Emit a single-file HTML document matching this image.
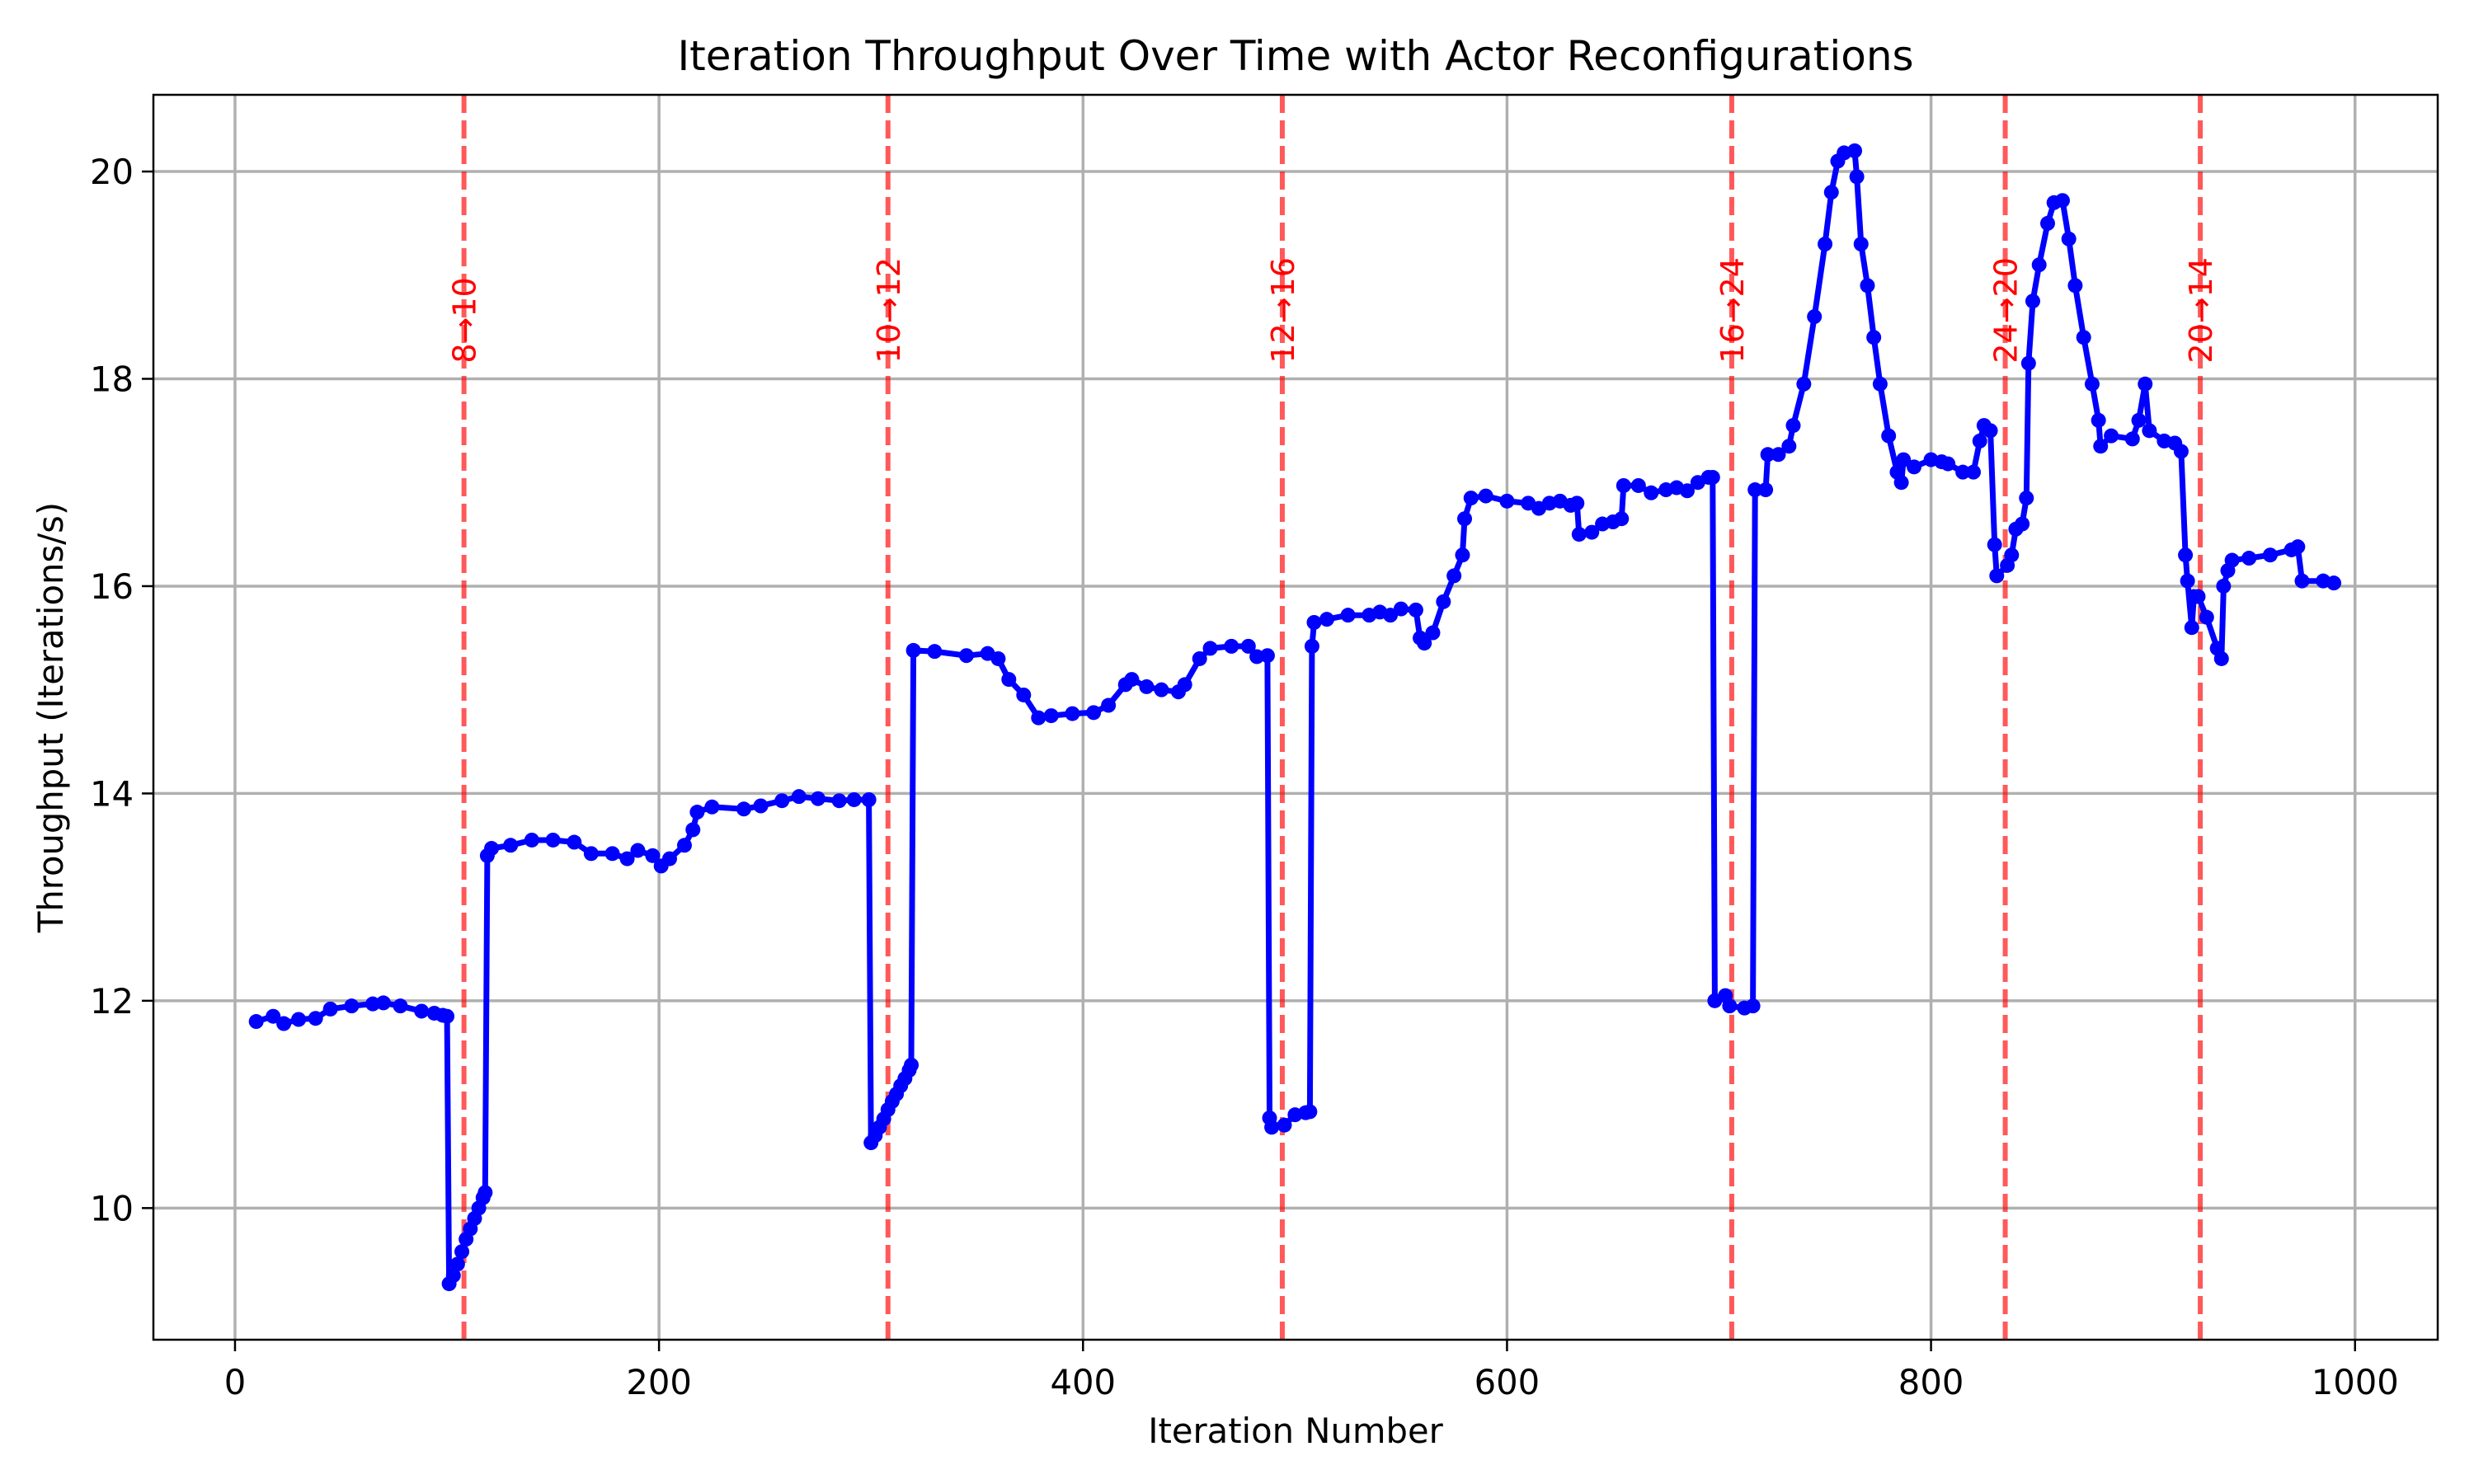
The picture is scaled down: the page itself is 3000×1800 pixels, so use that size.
<!DOCTYPE html>
<html><head><meta charset="utf-8">
<style>
html,body{margin:0;padding:0;background:#fff;}
svg{display:block;font-family:"DejaVu Sans","Liberation Sans",sans-serif;}
</style></head>
<body>
<svg id="chart" width="3000" height="1800" viewBox="0 0 3000 1800" xmlns="http://www.w3.org/2000/svg">
<rect width="3000" height="1800" fill="#fff"/>
<g id="grid"></g>
<g id="vlines"></g>
<g id="series"></g>
<rect x="186" y="115" width="2770" height="1510" fill="none" stroke="#000" stroke-width="2.5"/>
<g id="axes"></g>
<text x="1571" y="85" font-size="50" text-anchor="middle">Iteration Throughput Over Time with Actor Reconfigurations</text>
<text x="1571" y="1750" font-size="41.7" text-anchor="middle">Iteration Number</text>
<text transform="translate(76,870) rotate(-90)" font-size="41.7" text-anchor="middle">Throughput (Iterations/s)</text>
</svg>
<script>
const xs = [10,18,23,30,38,45,55,65,70,78,88,94,98,100,
101,103,105,107,109,111,113,115,117,118,
119,121,130,140,150,160,168,178,185,190,197,201,205,212,216,218,225,240,248,258,266,275,285,292,299,
300,302,304,306,308,310,312,314,316,318,319,
320,330,345,355,360,365,372,379,385,395,405,412,420,423,430,437,445,448,455,460,470,478,482,487,
488,489,495,500,505,507,
508,509,515,525,535,540,545,550,557,559,561,565,570,575,579,580,583,590,600,610,615,620,625,630,633,634,640,645,650,654,655,662,668,675,680,685,690,695,697,
698,703,705,712,716,
717,722,723,728,733,735,740,745,750,753,756,759,764,765,767,770,773,776,780,784,786,787,792,800,805,808,815,820,823,825,828,830,831,836,838,840,843,845,846,848,851,855,858,862,865,868,872,876,879,880,885,895,898,901,903,910,915,918,920,921,923,924,926,930,935,937,938,940,942,950,960,970,973,975,985,990];
const ys = [11.8,11.85,11.78,11.82,11.83,11.92,11.95,11.97,11.98,11.95,11.9,11.88,11.86,11.85,
9.27,9.35,9.46,9.58,9.7,9.8,9.9,10.0,10.1,10.15,
13.4,13.47,13.5,13.55,13.55,13.53,13.42,13.42,13.37,13.45,13.4,13.3,13.37,13.5,13.65,13.82,13.87,13.85,13.88,13.93,13.97,13.95,13.93,13.94,13.94,
10.63,10.7,10.78,10.86,10.95,11.03,11.1,11.18,11.25,11.33,11.38,
15.38,15.37,15.33,15.35,15.3,15.1,14.95,14.73,14.75,14.77,14.78,14.85,15.05,15.1,15.03,15.0,14.98,15.05,15.3,15.4,15.42,15.42,15.32,15.33,
10.87,10.78,10.8,10.9,10.92,10.93,
15.42,15.65,15.68,15.72,15.72,15.75,15.72,15.78,15.77,15.5,15.45,15.55,15.85,16.1,16.3,16.65,16.85,16.87,16.82,16.8,16.75,16.8,16.82,16.78,16.8,16.5,16.52,16.6,16.62,16.65,16.97,16.97,16.9,16.93,16.95,16.92,17.0,17.05,17.05,
12.0,12.05,11.95,11.93,11.95,
16.93,16.93,17.27,17.27,17.35,17.55,17.95,18.6,19.3,19.8,20.1,20.18,20.2,19.95,19.3,18.9,18.4,17.95,17.45,17.1,17.0,17.22,17.15,17.22,17.2,17.18,17.1,17.1,17.4,17.55,17.5,16.4,16.1,16.2,16.3,16.55,16.6,16.85,18.15,18.75,19.1,19.5,19.7,19.72,19.35,18.9,18.4,17.95,17.6,17.35,17.45,17.42,17.6,17.95,17.5,17.4,17.38,17.3,16.3,16.05,15.6,15.9,15.9,15.7,15.4,15.3,16.0,16.15,16.25,16.27,16.3,16.35,16.38,16.05,16.05,16.03];
const reconfigX = [108,308,494,706,835,927];
const reconfigLabels = ["8→10","10→12","12→16","16→24","24→20","20→14"];
const xTicks = [0,200,400,600,800,1000];
const yTicks = [10,12,14,16,18,20];

const L=186,R=2956,T=115,B=1625;
const X0=-38.5,X1=1039,Y0=8.73,Y1=20.74;
const sx=v=>L+(v-X0)/(X1-X0)*(R-L);
const sy=v=>B-(v-Y0)/(Y1-Y0)*(B-T);
const NS="http://www.w3.org/2000/svg";
function mk(tag,attrs,parent){const e=document.createElementNS(NS,tag);for(const k in attrs)e.setAttribute(k,attrs[k]);parent.appendChild(e);return e;}
const grid=document.getElementById('grid'),axes=document.getElementById('axes'),vl=document.getElementById('vlines'),ser=document.getElementById('series');
xTicks.forEach(t=>{
  const g=mk('line',{x1:sx(t),x2:sx(t),y1:T,y2:B,stroke:'#b0b0b0','stroke-width':3.5},grid);
  
  
  const k=mk('line',{x1:sx(t),x2:sx(t),y1:B,y2:B+14,stroke:'#000','stroke-width':2.5},axes);
  
  
  const tx=mk('text',{x:sx(t),y:B+66,'font-size':41.7,'text-anchor':'middle'},axes);
  tx.textContent=t;
  
  
});
yTicks.forEach(t=>{
  const g=mk('line',{x1:L,x2:R,y1:sy(t),y2:sy(t),stroke:'#b0b0b0','stroke-width':3.5},grid);
  
  
  const k=mk('line',{x1:L-14,x2:L,y1:sy(t),y2:sy(t),stroke:'#000','stroke-width':2.5},axes);
  
  
  const tx=mk('text',{x:L-24,y:sy(t)+15,'font-size':41.7,'text-anchor':'end'},axes);
  tx.textContent=t;
  
  
});
let d='';
xs.forEach((x,i)=>{d+=(i?'L':'M')+sx(x).toFixed(1)+','+sy(ys[i]).toFixed(1);});
const path=mk('path',{d:d,fill:'none',stroke:'#0000ff','stroke-width':7,'stroke-linejoin':'round','stroke-linecap':'round'},ser);


xs.forEach((x,i)=>{
  const c=mk('circle',{cx:sx(x),cy:sy(ys[i]),r:9,fill:'#0000ff'},ser);
  
  
});
reconfigX.forEach((x,i)=>{
  const l=mk('line',{x1:sx(x),x2:sx(x),y1:T,y2:B,stroke:'#ff0000','stroke-opacity':0.65,'stroke-width':6,'stroke-dasharray':'22,9'},vl);
  
  
  const tx=mk('text',{transform:`translate(${sx(x)+14},${sy(18.15)}) rotate(-90)`,'font-size':38,fill:'#ff0000'},vl);
  tx.textContent=reconfigLabels[i];
  
  
});
</script>
</body></html>
